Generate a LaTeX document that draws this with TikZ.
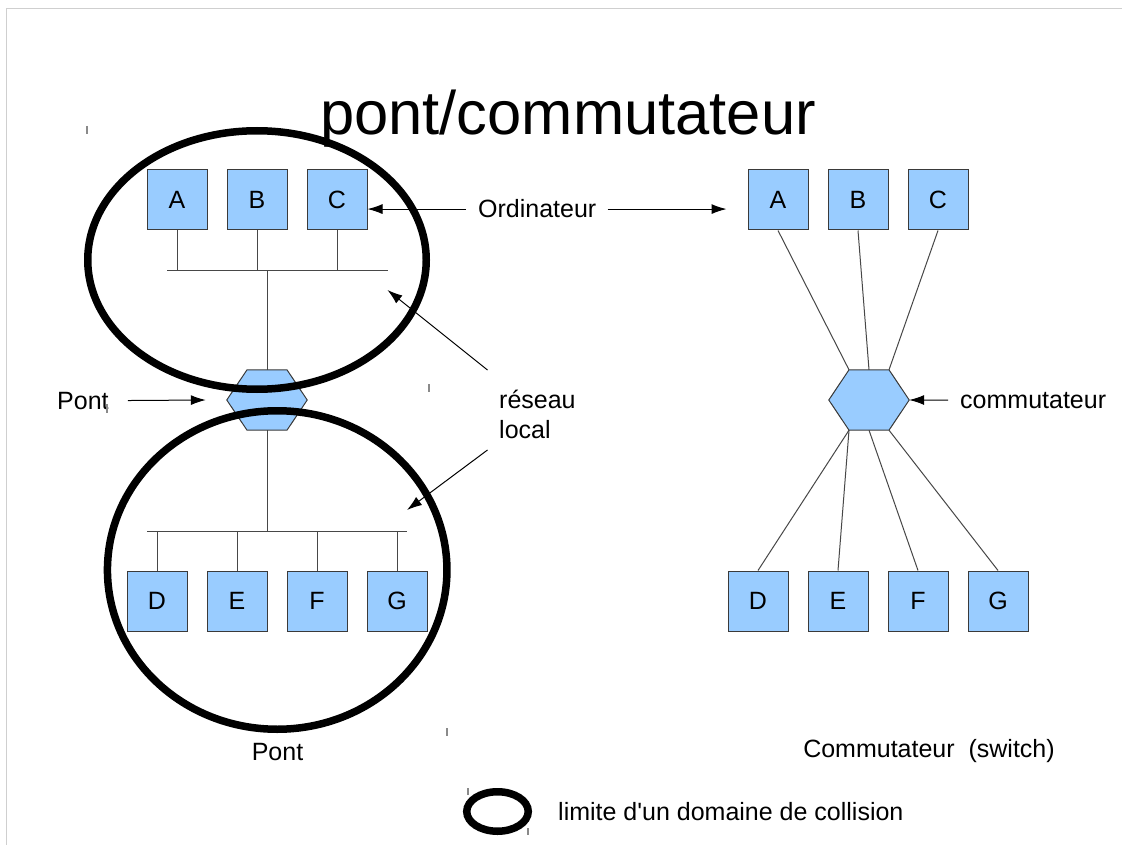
\documentclass[tikz,border=0pt]{standalone}
\usepackage{fontspec}
\setmainfont{Liberation Sans}
\usetikzlibrary{arrows.meta,calc}
\definecolor{boxblue}{HTML}{99CCFF}
\definecolor{boxedge}{HTML}{3A3A3A}
\definecolor{pagegray}{HTML}{CFCFCF}
\definecolor{tickgray}{HTML}{8A8A8A}
\begin{document}
\begin{tikzpicture}[x=1pt,y=-1pt,
  pc/.style={draw=boxedge, fill=boxblue, minimum width=60pt, minimum height=60pt,
             inner sep=0pt, line width=1pt, font=\fontsize{25}{30}\selectfont},
  hexbox/.style={minimum width=80pt, minimum height=60pt, inner sep=0pt},
  hexfill/.style={draw=boxedge, fill=boxblue, line width=1pt},
  wire/.style={draw=black!72, line width=1pt},
  lbl/.style={font=\fontsize{25}{30}\selectfont, inner sep=0pt},
  pointer/.style={draw=black, line width=1pt, -{Latex[length=15pt,width=10pt]}},
  collring/.style={draw=black, line width=7.5pt},
  stray/.style={draw=tickgray, line width=1.3pt}]

\useasboundingbox (0,0) rectangle (1122,845);
\fill[white] (0,0) rectangle (1122,845);
\draw[pagegray, line width=1pt] (6,845) -- (6,9) -- (1122,9);

% title
\node[font=\fontsize{61.5}{70}\selectfont, inner sep=0pt, anchor=base] (title) at (568,135) {pont/commutateur};

% ---------- left: bridge ----------
\node[pc] (A1) at (177,200) {A};
\node[pc] (B1) at (257,200) {B};
\node[pc] (C1) at (337,200) {C};
\node[hexbox] (hexL) at (267,400) {};
\node[pc] (D1) at (157,601) {D};
\node[pc] (E1) at (237,601) {E};
\node[pc] (F1) at (317,601) {F};
\node[pc] (G1) at (397,601) {G};

\coordinate (busU) at (267,270);
\coordinate (busUL) at (167,270);
\coordinate (busUR) at (387.5,270);
\coordinate (busD) at (267,531);
\coordinate (busDL) at (147,531);
\coordinate (busDR) at (407,531);

\draw[wire] (busUL) -- (busUR);
\foreach \n in {A1,B1,C1} \draw[wire] (\n.south) -- (\n.south |- busU);
\draw[wire] (busU) -- (hexL.north);
\draw[wire] (hexL.south) -- (busD);
\draw[wire] (busDL) -- (busDR);
\foreach \n in {D1,E1,F1,G1} \draw[wire] (\n.north) -- (\n.north |- busD);

\draw[hexfill] (hexL.west) -- ($(hexL.north)+(-20,0)$) -- ($(hexL.north)+(20,0)$)
  -- (hexL.east) -- ($(hexL.south)+(20,0)$) -- ($(hexL.south)+(-20,0)$) -- cycle;

% ---------- right: switch ----------
\node[pc] (A2) at (778,200) {A};
\node[pc] (B2) at (858,200) {B};
\node[pc] (C2) at (938,200) {C};
\node[hexbox] (hexR) at (869,400) {};
\node[pc] (D2) at (758,601) {D};
\node[pc] (E2) at (838,601) {E};
\node[pc] (F2) at (918,601) {F};
\node[pc] (G2) at (998,601) {G};

\draw[wire] (A2.south) -- ($(hexR.north)+(-20,0)$);
\draw[wire] (B2.south) -- (hexR.north);
\draw[wire] (C2.south) -- ($(hexR.north)+(20,0)$);
\draw[wire] ($(hexR.south)+(-20,0)$) -- (D2.north);
\draw[wire] ($(hexR.south)+(-20,0)$) -- (E2.north);
\draw[wire] (hexR.south) -- (F2.north);
\draw[wire] ($(hexR.south)+(20,0)$) -- (G2.north);

\draw[hexfill] (hexR.west) -- ($(hexR.north)+(-20,0)$) -- ($(hexR.north)+(20,0)$)
  -- (hexR.east) -- ($(hexR.south)+(20,0)$) -- ($(hexR.south)+(-20,0)$) -- cycle;

% ---------- labels ----------
\node[lbl, anchor=base west] (ord) at (478,218) {Ordinateur};
\node[lbl, anchor=base west] (pontL) at (57,409) {Pont};
\node[lbl, anchor=base west] (reseau) at (499,408) {réseau};
\node[lbl, anchor=base west] (local) at (499,438) {local};
\node[lbl, anchor=base west] (commut) at (960,408) {commutateur};
\node[lbl, anchor=base] (pontB) at (277.5,760) {Pont};
\node[lbl, anchor=base] (switch) at (929,757) {Commutateur~~(switch)};
\node[lbl, anchor=base west] (legend) at (558,820) {limite d\textquotesingle un domaine de collision};

% ---------- pointers ----------
\draw[pointer] ($(ord.west)+(-12,0)$) -- (C1.east |- ord.west);
\draw[pointer] ($(ord.east)+(11,0)$) -- ($(A2.west |- ord.east)+(-21,0)$);
\draw[pointer] ($(pontL.east)+(19,0)$) -- ($(hexL.west)+(-21,0)$);
\draw[pointer] ($(commut.west)+(-12,0)$) -- (hexR.east);
\coordinate (resFrom1) at (487.5,370);
\coordinate (resTo1) at (387.5,290);
\coordinate (resFrom2) at (487.5,450);
\coordinate (resTo2) at (407,510);
\draw[pointer] (resFrom1) -- (resTo1);
\draw[pointer] (resFrom2) -- (resTo2);

% ---------- collision domains ----------
\draw[collring] (257,260) ellipse [x radius=169.25pt, y radius=129.25pt];
\draw[collring] (277.2,570) ellipse [x radius=169.75pt, y radius=159.25pt];
\draw[collring] (497.5,811.5) ellipse [x radius=30.75pt, y radius=19.75pt];

% ---------- stray marks ----------
\draw[stray] (87,126) -- (87,134);
\draw[stray] (429,384) -- (429,392);
\draw[stray] (447,728) -- (447,736);
\draw[stray] (468,788) -- (468,795);
\draw[stray] (528,828) -- (528,835);
\draw[stray] (107,404) -- (107,413);
\end{tikzpicture}
\end{document}
